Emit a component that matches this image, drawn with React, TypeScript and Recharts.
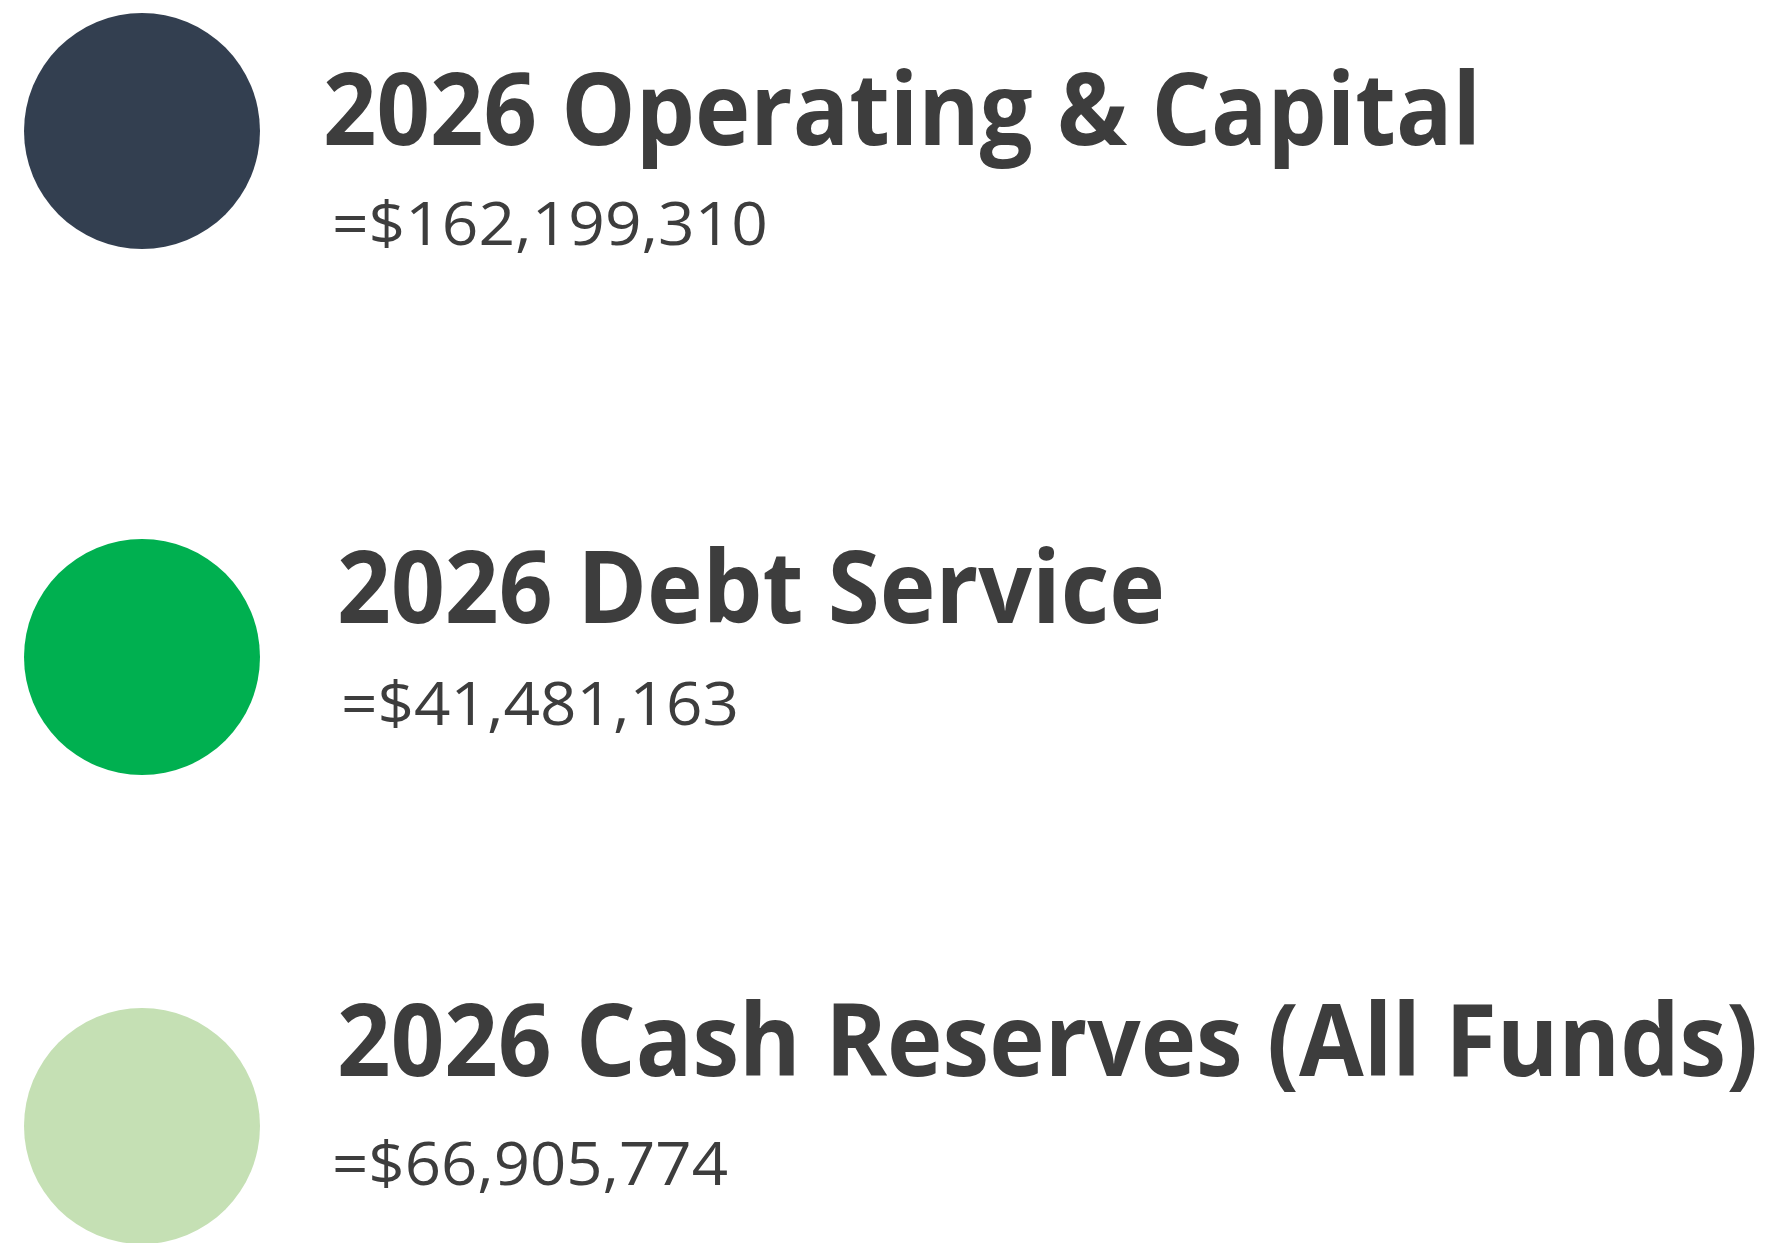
import { ScatterChart, Scatter, XAxis, YAxis } from 'recharts'

const LABELS = ['2026 Operating & Capital', '2026 Debt Service', '2026 Cash Reserves (All Funds)']
const AMOUNTS = [162199310, 41481163, 66905774]
const COLORS = ['#333f50', '#00b050', '#c5e0b4']

// layout of each row (page pixels), not data
const ROW_Y = [131, 657, 1126]
const TITLE_POS = [
  { dx: 181, dy: 14, w: 1158 },
  { dx: 195, dy: -34, w: 828 },
  { dx: 195, dy: -50, w: 1421 },
]
const VALUE_POS = [
  { dx: 190, dy: 114, w: 436 },
  { dx: 199, dy: 68, w: 398 },
  { dx: 190, dy: 59, w: 396 },
]

const W = 1773
const H = 1243
const TEXT = '#3d3d3d'

const fmt = (v: number) => '=$' + v.toLocaleString('en-US')

const data = LABELS.map((name, i) => ({
  x: 142,
  y: ROW_Y[i],
  name,
  amount: AMOUNTS[i],
  color: COLORS[i],
  i,
}))

function Bubble(props: any) {
  const { cx, cy, payload } = props
  const t = TITLE_POS[payload.i]
  const v = VALUE_POS[payload.i]
  return (
    <g>
      <circle cx={cx} cy={cy} r={118} fill={payload.color} />
      <text x={cx + t.dx} y={cy + t.dy} fill={TEXT} fontFamily="'Open Sans', sans-serif"
        fontWeight={700} fontSize={100} textLength={t.w} lengthAdjust="spacingAndGlyphs">
        {payload.name}
      </text>
      <text x={cx + v.dx} y={cy + v.dy} fill={TEXT} fontFamily="'Open Sans', sans-serif"
        fontWeight={400} fontSize={61} textLength={v.w} lengthAdjust="spacingAndGlyphs">
        {fmt(payload.amount)}
      </text>
    </g>
  )
}

export default function App() {
  return (
    <div style={{ position: 'absolute', left: 0, top: 0, width: W, height: H, background: '#fff', overflow: 'hidden' }}>
      <ScatterChart width={W} height={H} margin={{ top: 0, right: 0, bottom: 0, left: 0 }}>
        <XAxis type="number" dataKey="x" domain={[0, W]} hide />
        <YAxis type="number" dataKey="y" domain={[0, H]} reversed hide />
        <Scatter data={data} shape={<Bubble />} isAnimationActive={false} />
      </ScatterChart>
    </div>
  )
}
